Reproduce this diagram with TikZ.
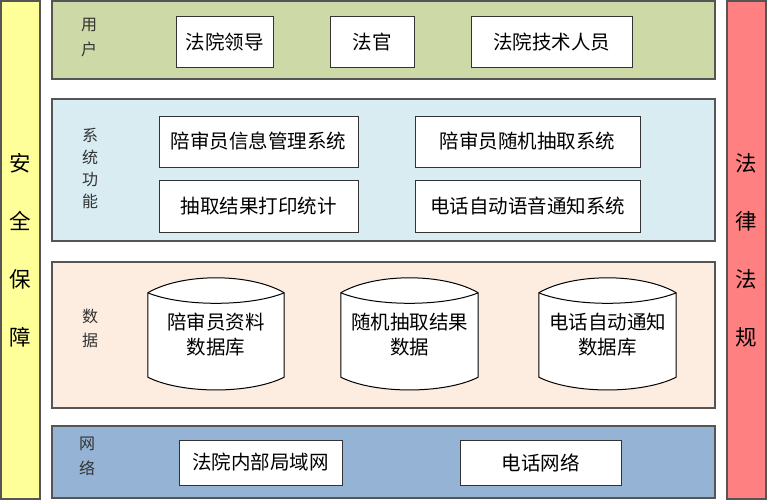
\documentclass[tikz,border=0pt]{standalone}
\usepackage{fontspec}
\setmainfont{Noto Sans CJK SC}
\definecolor{sideyellow}{RGB}{255,255,153}
\definecolor{sidered}{RGB}{255,128,128}
\definecolor{usergreen}{RGB}{205,217,167}
\definecolor{funcblue}{RGB}{216,236,242}
\definecolor{datapeach}{RGB}{253,236,224}
\definecolor{netblue}{RGB}{149,179,213}
\definecolor{edgegray}{RGB}{85,85,85}
\begin{document}
\begin{tikzpicture}[
    x=1pt, y=-1pt,
    sidebar/.style={rectangle, draw=edgegray, line width=1.4pt, minimum width=39pt, minimum height=498pt, inner sep=0pt},
    sidetext/.style={align=center, font=\fontsize{21.5}{58}\selectfont},
    layer/.style={rectangle, draw=edgegray, line width=1.4pt, minimum width=663pt, inner sep=0pt},
    layertext/.style={align=center, font=\fontsize{16}{22}\selectfont, text=black!80},
    item/.style={rectangle, draw=black!80, line width=1pt, fill=white, inner sep=0pt, font=\fontsize{19.5}{22}\selectfont},
    dbbox/.style={rectangle, inner sep=0pt, minimum width=136pt, minimum height=84pt},
    dbtext/.style={align=center, font=\fontsize{19.5}{25}\selectfont}
]
    \useasboundingbox (0,0) rectangle (767,500);

    % Side bars
    \node[sidebar, fill=sideyellow] (safety) at (20.5,250) {};
    \node[sidetext] (safetytext) at (safety) {安\\全\\保\\障};
    \node[sidebar, fill=sidered] (law) at (746.5,250) {};
    \node[sidetext] (lawtext) at (law) {法\\律\\法\\规};

    % Layers
    \node[layer, fill=usergreen, minimum height=78pt] (users) at (383.5,40) {};
    \node[layer, fill=funcblue, minimum height=142pt] (funcs) at (383.5,170) {};
    \node[layer, fill=datapeach, minimum height=146pt] (data) at (383.5,335) {};
    \node[layer, fill=netblue, minimum height=72pt] (net) at (383.5,462) {};

    \node[layertext, font=\fontsize{16}{25}\selectfont] (userslabel) at (89,38) {用\\户};
    \node[layertext] (funcslabel) at (90,168) {系\\统\\功\\能};
    \node[layertext, font=\fontsize{16}{24}\selectfont] (datalabel) at (90,328) {数\\据};
    \node[layertext, font=\fontsize{16}{25}\selectfont] (netlabel) at (87,456) {网\\络};

    % Users
    \node[item, minimum width=97pt, minimum height=51pt] (leader) at (224.5,42.5) {法院领导};
    \node[item, minimum width=84pt, minimum height=51pt] (judge) at (372,42.5) {法官};
    \node[item, minimum width=161pt, minimum height=51pt] (tech) at (551.5,42.5) {法院技术人员};

    % System functions
    \node[item, minimum width=199pt, minimum height=51pt] (infosys) at (258.5,141.5) {陪审员信息管理系统};
    \node[item, minimum width=225pt, minimum height=51pt] (randsys) at (527.5,141.5) {陪审员随机抽取系统};
    \node[item, minimum width=199pt, minimum height=52pt] (printsys) at (258.5,206) {抽取结果打印统计};
    \node[item, minimum width=225pt, minimum height=52pt] (phonesys) at (527.5,206) {电话自动语音通知系统};

    % Databases
    \node[dbbox] (jurordb) at (216,335) {};
    \node[dbbox, minimum width=137pt] (resultdb) at (409.5,335) {};
    \node[dbbox, minimum width=137pt] (phonedb) at (607.5,335) {};
    \foreach \n in {jurordb,resultdb,phonedb} {
        \draw[fill=white, line width=1pt] (\n.north west) .. controls +(34,-20) and +(-34,-20) .. (\n.north east)
            -- (\n.south east) .. controls +(-34,17) and +(34,17) .. (\n.south west) -- cycle;
        \draw[line width=1pt] (\n.north west) .. controls +(34,14) and +(-34,14) .. (\n.north east);
    }
    \node[dbtext] (jurordbtext) at (216,335) {陪审员资料\\数据库};
    \node[dbtext] (resultdbtext) at (409.5,335) {随机抽取结果\\数据};
    \node[dbtext] (phonedbtext) at (607.5,335) {电话自动通知\\数据库};

    % Network
    \node[item, minimum width=163pt, minimum height=45pt] (lan) at (260.5,462.5) {法院内部局域网};
    \node[item, minimum width=161pt, minimum height=45pt] (phonenet) at (540.5,462.5) {电话网络};
\end{tikzpicture}
\end{document}
